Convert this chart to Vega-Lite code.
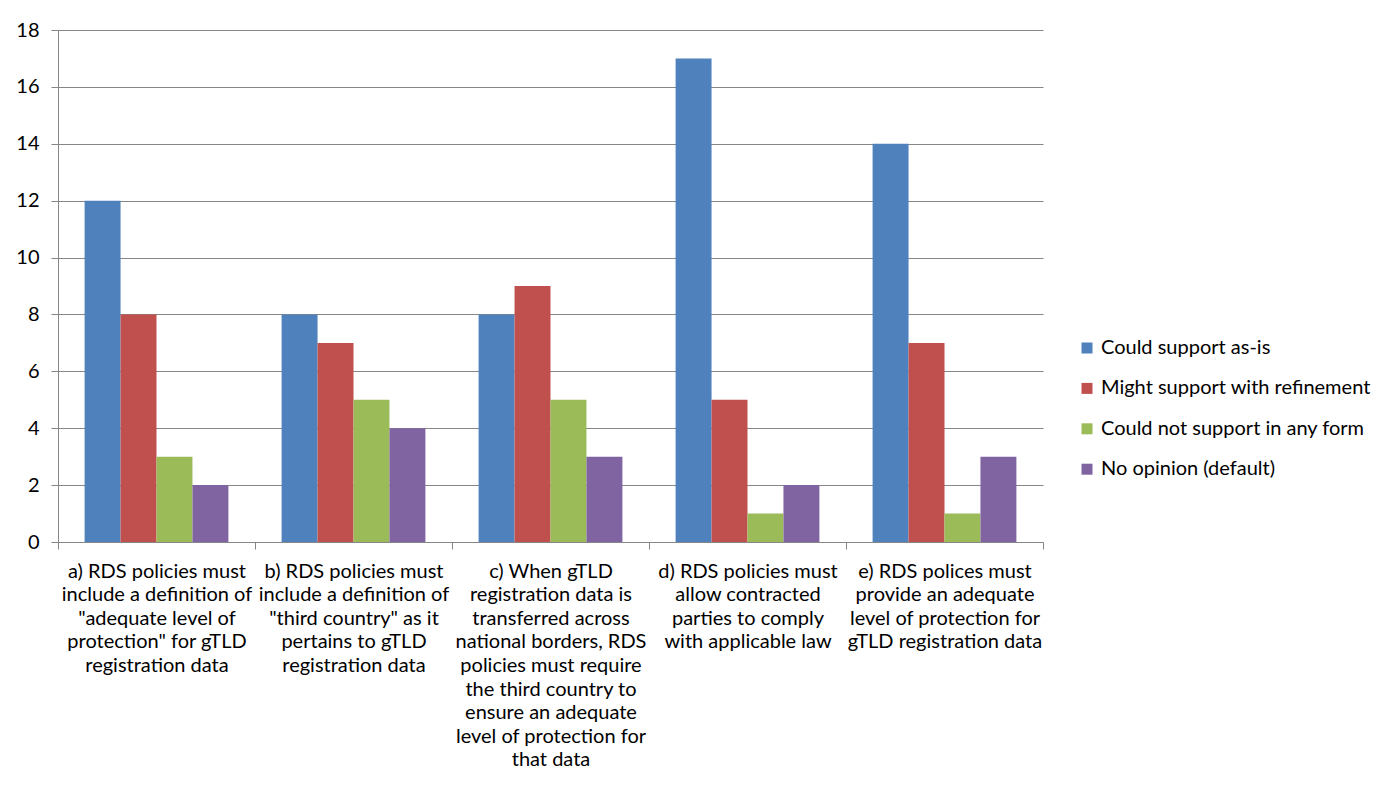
{
  "$schema": "https://vega.github.io/schema/vega-lite/v6.json",
  "width": 985,
  "height": 512,
  "autosize": {"type": "none"},
  "padding": {"left": 58, "top": 30, "right": 355, "bottom": 262},
  "background": "white",
  "config": {
    "font": "Lato",
    "view": {"stroke": null},
    "axis": {"labelFont": "Lato", "labelColor": "#000000", "labelFontSize": 20, "domainColor": "#868686", "tickColor": "#868686", "gridColor": "#868686", "domainWidth": 1, "gridWidth": 1, "tickWidth": 1}
  },
  "data": {
    "values": [
      {"q": "a) RDS policies must|include a definition of|\"adequate level of|protection\" for gTLD|registration data", "s": "Could support as-is", "v": 12},
      {"q": "a) RDS policies must|include a definition of|\"adequate level of|protection\" for gTLD|registration data", "s": "Might support with refinement", "v": 8},
      {"q": "a) RDS policies must|include a definition of|\"adequate level of|protection\" for gTLD|registration data", "s": "Could not support in any form", "v": 3},
      {"q": "a) RDS policies must|include a definition of|\"adequate level of|protection\" for gTLD|registration data", "s": "No opinion (default)", "v": 2},
      {"q": "b) RDS policies must|include a definition of|\"third country\" as it|pertains to gTLD|registration data", "s": "Could support as-is", "v": 8},
      {"q": "b) RDS policies must|include a definition of|\"third country\" as it|pertains to gTLD|registration data", "s": "Might support with refinement", "v": 7},
      {"q": "b) RDS policies must|include a definition of|\"third country\" as it|pertains to gTLD|registration data", "s": "Could not support in any form", "v": 5},
      {"q": "b) RDS policies must|include a definition of|\"third country\" as it|pertains to gTLD|registration data", "s": "No opinion (default)", "v": 4},
      {"q": "c) When gTLD|registration data is|transferred across|national borders, RDS|policies must require|the third country to|ensure an adequate|level of protection for|that data", "s": "Could support as-is", "v": 8},
      {"q": "c) When gTLD|registration data is|transferred across|national borders, RDS|policies must require|the third country to|ensure an adequate|level of protection for|that data", "s": "Might support with refinement", "v": 9},
      {"q": "c) When gTLD|registration data is|transferred across|national borders, RDS|policies must require|the third country to|ensure an adequate|level of protection for|that data", "s": "Could not support in any form", "v": 5},
      {"q": "c) When gTLD|registration data is|transferred across|national borders, RDS|policies must require|the third country to|ensure an adequate|level of protection for|that data", "s": "No opinion (default)", "v": 3},
      {"q": "d) RDS policies must|allow contracted|parties to comply|with applicable law", "s": "Could support as-is", "v": 17},
      {"q": "d) RDS policies must|allow contracted|parties to comply|with applicable law", "s": "Might support with refinement", "v": 5},
      {"q": "d) RDS policies must|allow contracted|parties to comply|with applicable law", "s": "Could not support in any form", "v": 1},
      {"q": "d) RDS policies must|allow contracted|parties to comply|with applicable law", "s": "No opinion (default)", "v": 2},
      {"q": "e) RDS polices must|provide an adequate|level of protection for|gTLD registration data", "s": "Could support as-is", "v": 14},
      {"q": "e) RDS polices must|provide an adequate|level of protection for|gTLD registration data", "s": "Might support with refinement", "v": 7},
      {"q": "e) RDS polices must|provide an adequate|level of protection for|gTLD registration data", "s": "Could not support in any form", "v": 1},
      {"q": "e) RDS polices must|provide an adequate|level of protection for|gTLD registration data", "s": "No opinion (default)", "v": 3}
    ]
  },
  "mark": {"type": "bar"},
  "encoding": {
    "x": {
      "field": "q", "type": "nominal", "sort": null,
      "scale": {"paddingInner": 0, "paddingOuter": 0},
      "axis": {"title": null, "labelAngle": 0, "labelExpr": "split(datum.label, '|')", "labelLineHeight": 23.6, "labelLimit": 0, "labelOverlap": false, "tickBand": "extent", "tickSize": 7, "labelPadding": 12, "grid": false}
    },
    "xOffset": {"field": "s", "type": "nominal", "sort": ["Could support as-is", "Might support with refinement", "Could not support in any form", "No opinion (default)"], "scale": {"paddingInner": 0, "paddingOuter": 0.74}},
    "y": {
      "field": "v", "type": "quantitative",
      "scale": {"domain": [0, 18], "nice": false},
      "axis": {"title": null, "values": [0, 2, 4, 6, 8, 10, 12, 14, 16, 18], "tickSize": 7, "labelPadding": 12, "grid": true}
    },
    "color": {
      "field": "s", "type": "nominal",
      "scale": {"domain": ["Could support as-is", "Might support with refinement", "Could not support in any form", "No opinion (default)"], "range": ["#4F81BD", "#C0504D", "#9BBB59", "#8064A2"]},
      "legend": {"title": null, "orient": "none", "legendX": 1019, "legendY": 308, "symbolType": "square", "symbolSize": 121, "symbolStrokeWidth": 0, "symbolOpacity": 1, "labelFontSize": 20, "labelFont": "Lato", "labelColor": "#000000", "labelOffset": 4, "rowPadding": 20.4, "labelLimit": 0}
    }
  }
}
